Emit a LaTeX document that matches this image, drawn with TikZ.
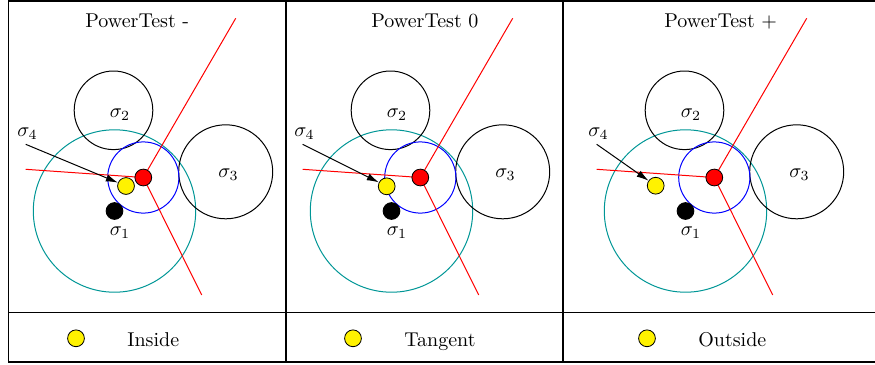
\documentclass[tikz,border=0pt]{standalone}
\usetikzlibrary{arrows.meta}
\definecolor{powerteal}{RGB}{0,150,150}
\begin{document}
\begin{tikzpicture}[x=0.5pt,y=-0.5pt,
  frame/.style={line width=0.6pt},
  site/.style={draw=black,line width=0.5pt},
  pt/.style={circle,draw=black,line width=0.4pt,inner sep=0pt,minimum size=8.4pt},
  redpt/.style={pt,fill=red},
  yelpt/.style={pt,fill=yellow},
  blkpt/.style={pt,fill=black},
  bis/.style={red,line width=0.5pt},
  lab/.style={inner sep=0pt},
  pointer/.style={-{Latex[length=6pt,width=3.6pt]},line width=0.5pt}]
\useasboundingbox (0,0) rectangle (875,365);
\draw[frame] (875,1) -- (8.5,1) -- (8.5,362) -- (875,362);
\draw[frame] (8.5,312.3) -- (875,312.3);
\draw[frame] (286,1) -- (286,362);
\draw[frame] (563,1) -- (563,362);
\foreach \i/\dx/\yx/\yy/\tx/\ttl/\leg in {
  1/0/126/186/85/{PowerTest -}/Inside,
  2/277/109.7/186.3/94/{PowerTest 0}/Tangent,
  3/571/84.7/185.7/93/{PowerTest $+$}/Outside}{
\begin{scope}[shift={(\dx,0)}]
  \coordinate (c1-\i) at (114.5,211);
  \coordinate (c2-\i) at (113.5,110.3);
  \coordinate (c3-\i) at (225.7,171.8);
  \coordinate (rc-\i) at (143.3,177.5);
  \draw[powerteal,line width=0.5pt] (c1-\i) circle[radius=40.6pt];
  \draw[site] (c2-\i) circle[radius=19.65pt];
  \draw[site] (c3-\i) circle[radius=23.5pt];
  \draw[blue,line width=0.5pt] (rc-\i) circle[radius=17.8pt];
  \coordinate (e1-\i) at (235.7,18.3);
  \coordinate (e2-\i) at (201.7,295);
  \coordinate (e3-\i) at (25.7,169.3);
  \draw[bis] (rc-\i) -- (e1-\i);
  \draw[bis] (rc-\i) -- (e2-\i);
  \draw[bis] (rc-\i) -- (e3-\i);
  \node[blkpt] (b-\i) at (c1-\i) {};
  \node[redpt] (r-\i) at (rc-\i) {};
  \node[yelpt] (y-\i) at (\yx,\yy) {};
  \node[lab] (s1-\i) at (120,233) {$\sigma_1$};
  \node[lab] (s2-\i) at (120,115) {$\sigma_2$};
  \node[lab] (s3-\i) at (228.5,175) {$\sigma_3$};
  \node[lab] (s4-\i) at (27.5,133.5) {$\sigma_4$};
  \coordinate (a-\i) at (25.7,144.3);
  \draw[pointer] (a-\i) -- (y-\i);
  \node[lab,anchor=base west] (t-\i) at (\tx,27) {\ttl};
  \node[yelpt] (ly-\i) at (76,338.3) {};
  \node[lab,anchor=base west] (lt-\i) at (127,346.7) {\leg};
\end{scope}
}
\end{tikzpicture}
\end{document}
